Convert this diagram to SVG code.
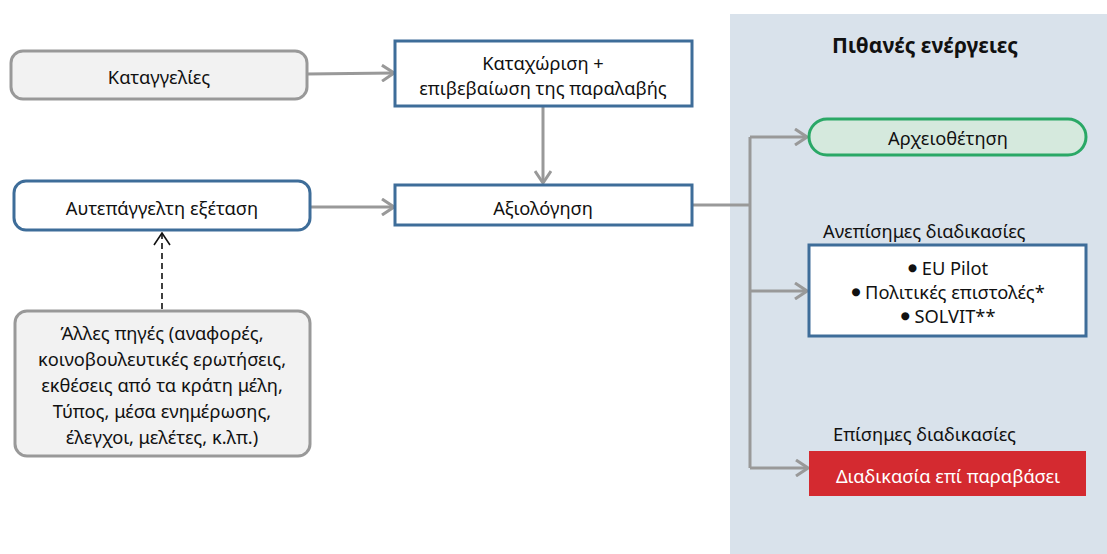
<svg xmlns="http://www.w3.org/2000/svg" width="1107" height="554" viewBox="0 0 1107 554">
<style>
text{font-family:"Noto Sans","Open Sans","DejaVu Sans",sans-serif;font-size:18.3px;fill:#111;text-anchor:middle;dominant-baseline:central}
.gray{fill:#f2f2f2;stroke:#999;stroke-width:3}
.blue{fill:#fff;stroke:#3e6d99;stroke-width:3}
.conn{fill:none;stroke:#999;stroke-width:3}
.dash{fill:none;stroke:#111;stroke-width:1.6;stroke-dasharray:6 4}
.lbl{text-anchor:start}
.bul{font-size:10.5px}
</style>
<defs>
<marker id="ah" viewBox="0 0 14 18" refX="13" refY="9" markerWidth="14" markerHeight="18" markerUnits="userSpaceOnUse" orient="auto">
<path d="M1,1 L13,9 L1,17" fill="none" stroke="#999" stroke-width="3"/>
</marker>
<marker id="ahk" viewBox="0 0 14 18" refX="13" refY="9" markerWidth="14" markerHeight="18" markerUnits="userSpaceOnUse" orient="auto">
<path d="M1,1 L13,9 L1,17" fill="none" stroke="#111" stroke-width="1.6"/>
</marker>
</defs>
<rect x="0" y="0" width="1107" height="554" fill="#fff"/>
<rect id="panel" x="730" y="14" width="377" height="540" fill="#d9e2eb"/>
<text x="925" y="45" style="font-weight:bold;font-size:21px">Πιθανές ενέργειες</text>

<g id="connectors">
<path class="conn" d="M307,74 L394,73" marker-end="url(#ah)"/>
<path class="conn" d="M310,207 L394,207" marker-end="url(#ah)"/>
<path class="conn" d="M543,107 L543,183" marker-end="url(#ah)"/>
<path class="conn" d="M692,205 L750,205"/>
<path class="conn" d="M750,137 L750,468"/>
<path class="conn" d="M750,137 L807,137" marker-end="url(#ah)"/>
<path class="conn" d="M750,291 L807,291" marker-end="url(#ah)"/>
<path class="conn" d="M750,468 L808,468" marker-end="url(#ah)"/>
<path class="dash" d="M162,309 L162,233" marker-end="url(#ahk)"/>
</g>

<g id="n-complaints">
<rect class="gray" x="11" y="51" width="296" height="48" rx="12"/>
<text x="159" y="76">Καταγγελίες</text>
</g>
<g id="n-register">
<rect class="blue" x="395" y="41" width="297" height="65"/>
<text x="543" y="62">Καταχώριση +</text>
<text x="543" y="87">επιβεβαίωση της παραλαβής</text>
</g>
<g id="n-ownini">
<rect class="blue" x="14" y="181" width="296" height="49" rx="12"/>
<text x="162" y="207">Αυτεπάγγελτη εξέταση</text>
</g>
<g id="n-assess">
<rect class="blue" x="395" y="185" width="297" height="40"/>
<text x="543" y="207">Αξιολόγηση</text>
</g>
<g id="n-other">
<rect class="gray" x="15" y="311" width="295" height="145" rx="12"/>
<text x="162" y="332">Άλλες πηγές (αναφορές,</text>
<text x="162" y="358">κοινοβουλευτικές ερωτήσεις,</text>
<text x="162" y="384">εκθέσεις από τα κράτη μέλη,</text>
<text x="162" y="410">Τύπος, μέσα ενημέρωσης,</text>
<text x="162" y="436">έλεγχοι, μελέτες, κ.λπ.)</text>
</g>
<g id="n-archive">
<rect x="809" y="119" width="277" height="36" rx="18" fill="#d5e9dd" stroke="#2aa866" stroke-width="3"/>
<text x="948" y="137">Αρχειοθέτηση</text>
</g>
<g id="n-informal">
<text class="lbl" x="823" y="230">Ανεπίσημες διαδικασίες</text>
<rect class="blue" x="809" y="245" width="277" height="91"/>
<text x="948" y="267"><tspan class="bul">●</tspan> EU Pilot</text>
<text x="948" y="291"><tspan class="bul">●</tspan> Πολιτικές επιστολές*</text>
<text x="948" y="315"><tspan class="bul">●</tspan> SOLVIT**</text>
</g>
<g id="n-formal">
<text class="lbl" x="833" y="433">Επίσημες διαδικασίες</text>
<rect x="809" y="451" width="277" height="45" fill="#d42a30"/>
<text x="948" y="475" style="fill:#fff">Διαδικασία επί παραβάσει</text>
</g>
</svg>
